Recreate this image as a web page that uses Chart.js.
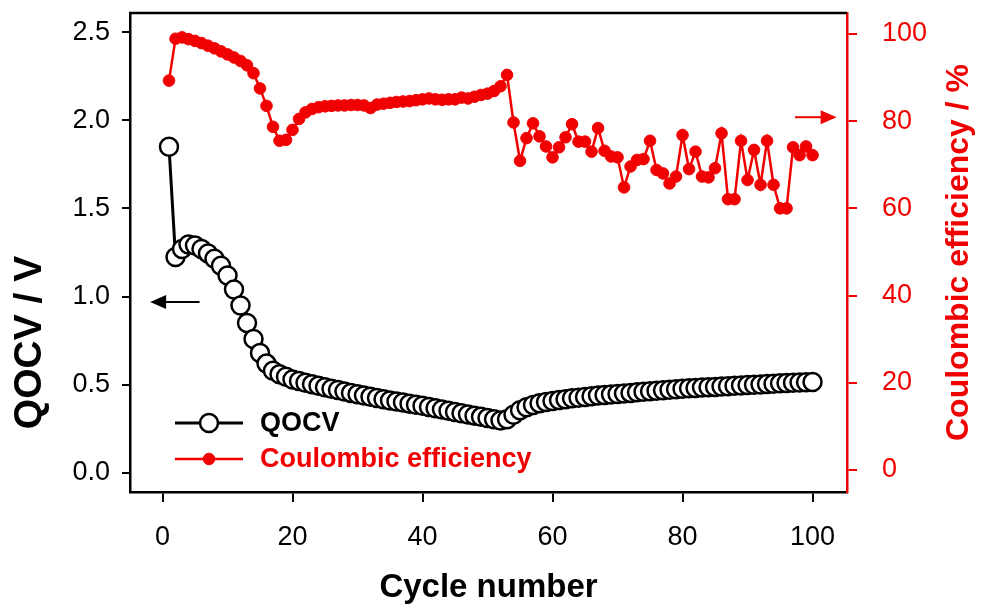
<!DOCTYPE html>
<html lang="en">
  <head>
    <meta charset="UTF-8" />
    <title>QOCV and Coulombic efficiency</title>
    <script src="https://cdn.jsdelivr.net/npm/chart.js@4.4.0/dist/chart.umd.min.js"></script>
    <style>
      body { margin: 0; background: #fff; }
    </style>
  </head>
  <body>
    <canvas id="myChart" width="983" height="608"></canvas>
    <script>
      const cycles = [1, 2, 3, 4, 5, 6, 7, 8, 9, 10, 11, 12, 13, 14, 15, 16, 17, 18, 19, 20,
        21, 22, 23, 24, 25, 26, 27, 28, 29, 30, 31, 32, 33, 34, 35, 36, 37, 38, 39, 40,
        41, 42, 43, 44, 45, 46, 47, 48, 49, 50, 51, 52, 53, 54, 55, 56, 57, 58, 59, 60,
        61, 62, 63, 64, 65, 66, 67, 68, 69, 70, 71, 72, 73, 74, 75, 76, 77, 78, 79, 80,
        81, 82, 83, 84, 85, 86, 87, 88, 89, 90, 91, 92, 93, 94, 95, 96, 97, 98, 99, 100];

      // QOCV / V
      const qocv = [1.85, 1.225, 1.27, 1.295, 1.29, 1.27, 1.245, 1.215, 1.175, 1.12,
        1.04, 0.95, 0.85, 0.76, 0.68, 0.62, 0.58, 0.56, 0.545, 0.53,
        0.521, 0.512, 0.503, 0.494, 0.486, 0.478, 0.47, 0.462, 0.454, 0.446,
        0.439, 0.432, 0.425, 0.418, 0.411, 0.405, 0.399, 0.393, 0.387, 0.381,
        0.374, 0.367, 0.36, 0.353, 0.346, 0.339, 0.332, 0.325, 0.318, 0.311,
        0.304, 0.298, 0.305, 0.33, 0.355, 0.372, 0.385, 0.395, 0.402, 0.408,
        0.413, 0.418, 0.423, 0.427, 0.431, 0.435, 0.439, 0.442, 0.445, 0.448,
        0.451, 0.454, 0.457, 0.46, 0.463, 0.466, 0.469, 0.472, 0.475, 0.478,
        0.48, 0.482, 0.484, 0.486, 0.488, 0.49, 0.492, 0.494, 0.496, 0.498,
        0.5, 0.502, 0.504, 0.506, 0.508, 0.51, 0.512, 0.513, 0.514, 0.516];

      // Coulombic efficiency / %
      const efficiency = [89.3, 98.9, 99.2, 98.8, 98.4, 97.9, 97.3, 96.7, 96.0, 95.3,
        94.6, 93.8, 92.8, 91.0, 87.5, 83.5, 78.7, 75.5, 75.7, 78.0,
        80.5, 82.0, 82.8, 83.2, 83.4, 83.5, 83.6, 83.6, 83.7, 83.7,
        83.6, 83.0, 83.8, 84.0, 84.2, 84.4, 84.5, 84.6, 84.8, 85.0,
        85.2, 85.0, 84.9, 85.0, 85.0, 85.4, 85.2, 85.6, 86.0, 86.3,
        86.9, 88.0, 90.6, 79.7, 70.9, 76.1, 79.5, 76.5, 74.2, 71.7,
        74.0, 76.3, 79.3, 75.3, 75.3, 73.0, 78.4, 73.2, 71.9, 71.7,
        64.8, 69.6, 71.1, 71.3, 75.5, 68.8, 68.0, 65.7, 67.3, 76.8,
        69.0, 73.0, 67.3, 67.1, 69.2, 77.2, 62.1, 62.1, 75.5, 66.5,
        73.4, 65.4, 75.5, 65.4, 60.0, 60.0, 74.0, 72.2, 74.2, 72.2];

      const xTicks = [0, 20, 40, 60, 80, 100];
      const leftTicks = [0, 0.5, 1.0, 1.5, 2.0, 2.5];
      const rightTicks = [0, 20, 40, 60, 80, 100];

      const RED = '#f00000';
      const FONT = "'Liberation Sans', Arial, sans-serif";

      // arrows pointing at the matching axis, in data units
      const arrows = [
        { axis: 'y', from: [5.7, 0.97], to: [-1.9, 0.97], color: '#000' },
        { axis: 'y1', from: [97.3, 80.9], to: [103.7, 80.9], color: RED }
      ];

      const extras = {
        id: 'extras',
        afterDraw(chart) {
          const ctx = chart.ctx;
          const area = chart.chartArea;
          const sx = chart.scales.x;
          ctx.save();

          // top frame line
          ctx.strokeStyle = '#000';
          ctx.lineWidth = 2.5;
          ctx.beginPath();
          ctx.moveTo(area.left - 1, area.top);
          ctx.lineTo(area.right, area.top);
          ctx.stroke();

          // arrows
          arrows.forEach(a => {
            const sy = chart.scales[a.axis];
            const x0 = sx.getPixelForValue(a.from[0]), y0 = sy.getPixelForValue(a.from[1]);
            const x1 = sx.getPixelForValue(a.to[0]), y1 = sy.getPixelForValue(a.to[1]);
            const dir = Math.sign(x1 - x0);
            ctx.strokeStyle = a.color;
            ctx.fillStyle = a.color;
            ctx.lineWidth = 2;
            ctx.beginPath();
            ctx.moveTo(x0, y0);
            ctx.lineTo(x1 - dir * 14, y1);
            ctx.stroke();
            ctx.beginPath();
            ctx.moveTo(x1, y1);
            ctx.lineTo(x1 - dir * 16, y1 - 7);
            ctx.lineTo(x1 - dir * 16, y1 + 7);
            ctx.closePath();
            ctx.fill();
          });

          // legend
          const ds = chart.data.datasets;
          const lx = area.left + 45, lw = 68;
          [423, 459].forEach((ly, i) => {
            const d = ds[i];
            ctx.strokeStyle = d.borderColor;
            ctx.lineWidth = d.borderWidth;
            ctx.beginPath();
            ctx.moveTo(lx, ly);
            ctx.lineTo(lx + lw, ly);
            ctx.stroke();
            ctx.beginPath();
            ctx.arc(lx + lw / 2, ly, d.pointRadius, 0, Math.PI * 2);
            ctx.fillStyle = d.pointBackgroundColor;
            ctx.fill();
            ctx.lineWidth = d.pointBorderWidth;
            ctx.strokeStyle = d.pointBorderColor;
            ctx.stroke();
            ctx.fillStyle = i === 0 ? '#000' : RED;
            ctx.font = 'bold 27px ' + FONT;
            ctx.textAlign = 'left';
            ctx.textBaseline = 'middle';
            ctx.fillText(d.label, lx + lw + 17, ly + 1);
          });

          // y axis titles, both reading bottom to top
          ctx.textAlign = 'center';
          ctx.textBaseline = 'middle';
          ctx.save();
          ctx.translate(30, (area.top + area.bottom) / 2 + 90);
          ctx.rotate(-Math.PI / 2);
          ctx.fillStyle = '#000';
          ctx.font = 'bold 39px ' + FONT;
          ctx.fillText('QOCV / V', 0, 0);
          ctx.restore();

          ctx.save();
          ctx.translate(chart.width - 24, (area.top + area.bottom) / 2);
          ctx.rotate(-Math.PI / 2);
          ctx.fillStyle = RED;
          ctx.font = 'bold 32px ' + FONT;
          ctx.fillText('Coulombic efficiency / %', 0, 0);
          ctx.restore();

          ctx.restore();
        }
      };

      const noPad = s => { s.paddingTop = 0; s.paddingBottom = 0; s.paddingLeft = 0; s.paddingRight = 0; };

      const ctx = document.getElementById('myChart').getContext('2d');
      const myChart = new Chart(ctx, {
        type: 'line',
        data: {
          labels: cycles,
          datasets: [
            {
              label: 'QOCV',
              data: cycles.map((c, i) => ({ x: c, y: qocv[i] })),
              yAxisID: 'y',
              borderColor: '#000',
              borderWidth: 3,
              pointRadius: 9,
              pointBorderWidth: 2.5,
              pointBorderColor: '#000',
              pointBackgroundColor: '#fff',
              tension: 0
            },
            {
              label: 'Coulombic efficiency',
              data: cycles.map((c, i) => ({ x: c, y: efficiency[i] })),
              yAxisID: 'y1',
              borderColor: RED,
              borderWidth: 2.5,
              pointRadius: 5.8,
              pointBorderWidth: 1,
              pointBorderColor: RED,
              pointBackgroundColor: RED,
              tension: 0
            }
          ]
        },
        options: {
          responsive: false,
          animation: false,
          layout: { padding: { top: 13, left: 0, right: 0, bottom: 0 } },
          plugins: {
            legend: { display: false },
            tooltip: { enabled: false }
          },
          scales: {
            x: {
              type: 'linear',
              position: 'bottom',
              min: -5,
              max: 105.3,
              afterFit: s => { s.height = 116; noPad(s); },
              afterBuildTicks: s => { s.ticks = xTicks.map(v => ({ value: v })); },
              border: { display: true, color: '#000', width: 2.5 },
              grid: { display: true, drawOnChartArea: false, drawTicks: true, tickLength: 10, color: '#000', lineWidth: 2 },
              ticks: { color: '#000', font: { family: FONT, size: 27 }, padding: 19, maxRotation: 0 },
              title: { display: true, text: 'Cycle number', color: '#000', font: { family: FONT, size: 33, weight: 'bold' }, padding: { top: 0, bottom: 0 } }
            },
            y: {
              position: 'left',
              min: -0.108,
              max: 2.608,
              afterFit: s => { s.width = 130; noPad(s); },
              afterBuildTicks: s => { s.ticks = leftTicks.map(v => ({ value: v })); },
              border: { display: true, color: '#000', width: 2.5 },
              grid: { display: true, drawOnChartArea: false, drawTicks: true, tickLength: 8, color: '#000', lineWidth: 2 },
              ticks: { color: '#000', font: { family: FONT, size: 27 }, padding: 12, callback: v => v.toFixed(1) }
            },
            y1: {
              position: 'right',
              min: -5.05,
              max: 104.8,
              afterFit: s => { s.width = 136; noPad(s); },
              afterBuildTicks: s => { s.ticks = rightTicks.map(v => ({ value: v })); },
              border: { display: true, color: RED, width: 2.5 },
              grid: { display: true, drawOnChartArea: false, drawTicks: true, tickLength: 10, color: RED, lineWidth: 2 },
              ticks: { color: RED, font: { family: FONT, size: 27 }, padding: 25 }
            }
          }
        },
        plugins: [extras]
      });
    </script>
  </body>
</html>
